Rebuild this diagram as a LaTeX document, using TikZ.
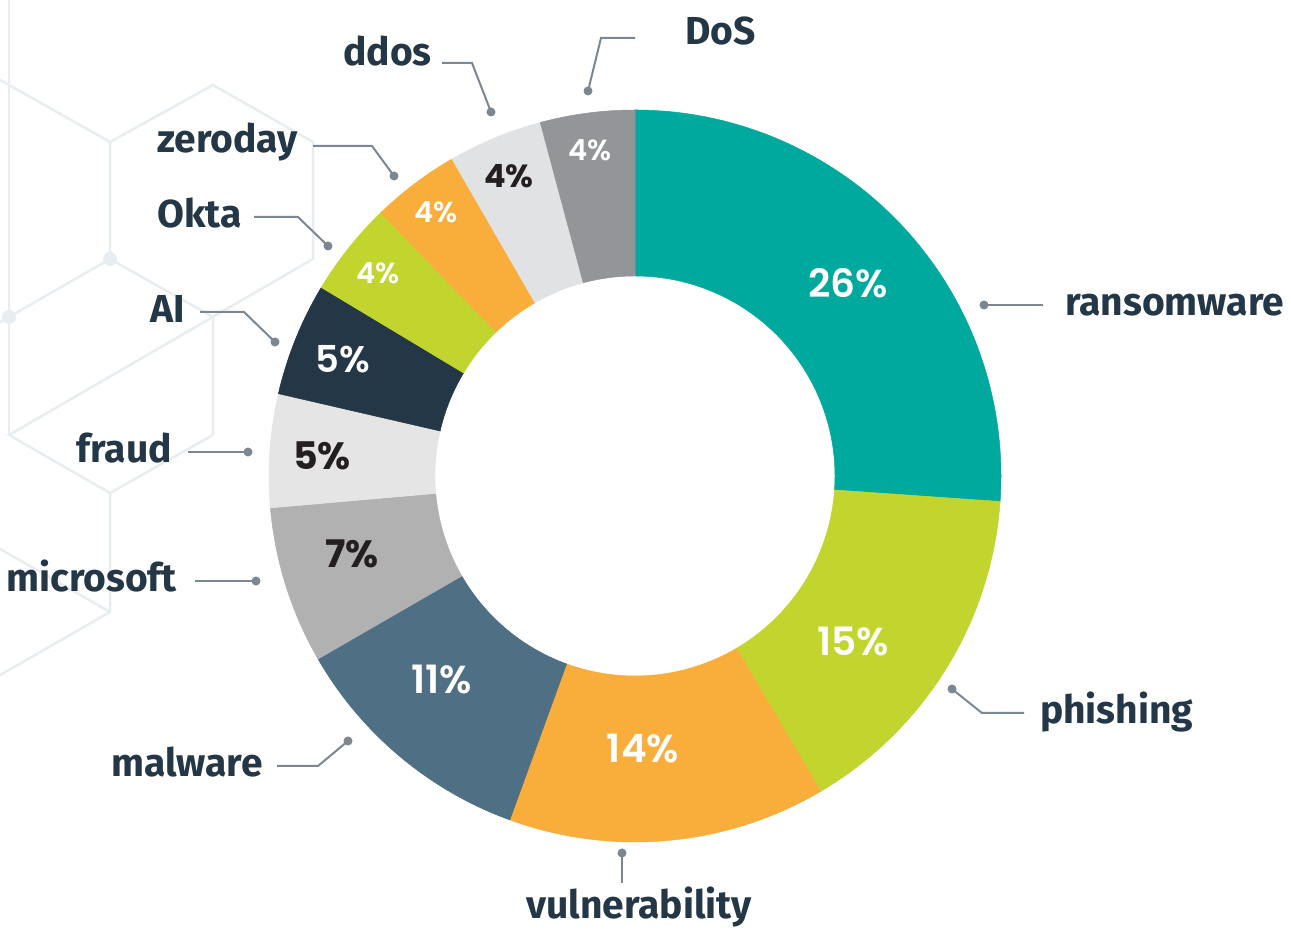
\documentclass[tikz,border=0pt]{standalone}
\usepackage{fontspec}
\usepackage{tikz}
\usetikzlibrary{positioning}
\setmainfont{Fira Sans}
\newfontfamily\pctfont{Poppins}
\newfontfamily\pctsemi{Poppins}[UprightFont=* SemiBold]
\definecolor{chartteal}{HTML}{00A99D}
\definecolor{chartlime}{HTML}{C2D52E}
\definecolor{chartorange}{HTML}{F9AE3B}
\definecolor{chartslate}{HTML}{4F6F84}
\definecolor{chartgrey}{HTML}{B1B1B1}
\definecolor{chartpale}{HTML}{E5E5E5}
\definecolor{chartmist}{HTML}{E1E2E4}
\definecolor{chartnavy}{HTML}{243746}
\definecolor{chartstone}{HTML}{939598}
\definecolor{pctdark}{HTML}{231F20}
\definecolor{leadgrey}{HTML}{7C8791}
\definecolor{hexgrey}{HTML}{E8EDF0}

\begin{document}
\begin{tikzpicture}[x=1pt, y=1pt,
  lbl/.style={font=\bfseries\fontsize{39pt}{42pt}\selectfont, text=chartnavy,
              inner sep=0pt, text height=20.5pt, text depth=0pt},
  lead/.style={draw=leadgrey, line width=2pt},
  tip/.style={circle, fill=leadgrey, inner sep=0pt, minimum size=9pt},
  pct/.style={font=\pctsemi\fontsize{39pt}{39pt}\selectfont, text=white, inner sep=0pt},
  pctsm/.style={pct, font=\pctsemi\fontsize{29pt}{29pt}\selectfont},
  pctdk/.style={pct, text=pctdark, font=\pctfont\bfseries\fontsize{38pt}{38pt}\selectfont},
  hex/.style={draw=hexgrey, line width=2.5pt},
]
\fill[white] (0,0) rectangle (1291,931);
\useasboundingbox (0,0) rectangle (1291,931);

% background hexagons
\begin{scope}
\clip (0,0) rectangle (1291,931);
\draw[hex] (9,941) -- (9,496);
\draw[hex] (-92,904) -- (9,846) -- (110,789) -- (213,846) -- (313,789) -- (313,672) -- (9,496)
  -- (110,438) -- (213,496) -- (213,614) -- (110,672) -- (110,789);
\draw[hex] (-92,556) -- (9,614) -- (110,672);
\draw[hex] (110,438) -- (110,319) -- (-92,203);
\draw[hex] (-92,435) -- (110,319);
\fill[hexgrey] (110,672) circle (7) (9,614) circle (7);
\end{scope}

% donut
\begin{scope}[shift={(635,455)}]
\foreach \a/\b/\c in {90/-4/chartteal, -4/-59.5/chartlime, -59.5/-110/chartorange,
    -110/-150/chartslate, -150/-175/chartgrey, -175/-193/chartpale, -193/-211/chartnavy,
    -211/-226/chartlime, -226/-240/chartorange, -240/-255/chartmist, -255/-270/chartstone}
  \filldraw[fill=\c, draw=\c, line width=0.5pt] (\a:366) arc[start angle=\a, end angle=\b, radius=366pt]
    -- (\b:200) arc[start angle=\b, end angle=\a, radius=200pt] -- cycle;
\end{scope}

% percentages
\node[pct] (p-ransom) at (848,648) {26\%};
\node[pct] (p-phish) at (853,290) {15\%};
\node[pct] (p-vuln) at (643,182) {14\%};
\node[pct] (p-malware) at (442,251) {11\%};
\node[pctdk] (p-ms) at (352,377) {7\%};
\node[pctdk] (p-fraud) at (322,475) {5\%};
\node[pct, font=\pctsemi\fontsize{37pt}{37pt}\selectfont] (p-ai) at (343,572) {5\%};
\node[pctsm] (p-okta) at (378,658) {4\%};
\node[pctsm] (p-zero) at (436,719) {4\%};
\node[pctdk, font=\pctfont\bfseries\fontsize{32pt}{32pt}\selectfont] (p-ddos) at (509,755) {4\%};
\node[pctsm] (p-dos) at (590,781) {4\%};

% leaders and labels
\node[tip] (d-ransom) at (984,626) {};
\coordinate (e-ransom) at (1043,626);
\draw[lead] (d-ransom.center) -- (e-ransom);
\node[lbl, right=22pt of e-ransom] (ransom) {ransomware};

\node[tip] (d-phish) at (952,242) {};
\coordinate (e-phish) at (1024,218);
\draw[lead] (d-phish.center) -- (982,218) -- (e-phish);
\node[lbl, right=16pt of e-phish] (phish) {phishing};

\node[tip] (d-vuln) at (622,78) {};
\coordinate (e-vuln) at (622,48);
\draw[lead] (d-vuln.center) -- (e-vuln);
\node[lbl, below=15pt of e-vuln, xshift=17pt] (vuln) {vulnerability};

\node[tip] (d-malware) at (348,190) {};
\coordinate (e-malware) at (277,165);
\draw[lead] (d-malware.center) -- (318,165) -- (e-malware);
\node[lbl, left=14pt of e-malware] (malware) {malware};

\node[tip] (d-ms) at (256,350) {};
\coordinate (e-ms) at (195,350);
\draw[lead] (d-ms.center) -- (e-ms);
\node[lbl, left=18pt of e-ms] (ms) {microsoft};

\node[tip] (d-fraud) at (248,479) {};
\coordinate (e-fraud) at (188,479);
\draw[lead] (d-fraud.center) -- (e-fraud);
\node[lbl, left=16pt of e-fraud] (fraud) {fraud};

\node[tip] (d-ai) at (275,589) {};
\coordinate (e-ai) at (200,619);
\draw[lead] (d-ai.center) -- (244,619) -- (e-ai);
\node[lbl, left=15pt of e-ai] (ai) {AI};

\node[tip] (d-okta) at (328,685) {};
\coordinate (e-okta) at (254,714);
\draw[lead] (d-okta.center) -- (298,714) -- (e-okta);
\node[lbl, left=12pt of e-okta] (okta) {Okta};

\node[tip] (d-zero) at (394,755) {};
\coordinate (e-zero) at (313,785);
\draw[lead] (d-zero.center) -- (372,785) -- (e-zero);
\node[lbl, left=15pt of e-zero, yshift=4pt] (zero) {zeroday};

\node[tip] (d-ddos) at (491,819) {};
\coordinate (e-ddos) at (442,868);
\draw[lead] (d-ddos.center) -- (472,868) -- (e-ddos);
\node[lbl, left=10pt of e-ddos, yshift=8pt] (ddos) {ddos};

\node[tip] (d-dos) at (588,840) {};
\coordinate (e-dos) at (635,893);
\draw[lead] (d-dos.center) -- (601,893) -- (e-dos);
\node[lbl, right=50pt of e-dos, yshift=4pt] (dos) {DoS};
\end{tikzpicture}
\end{document}
